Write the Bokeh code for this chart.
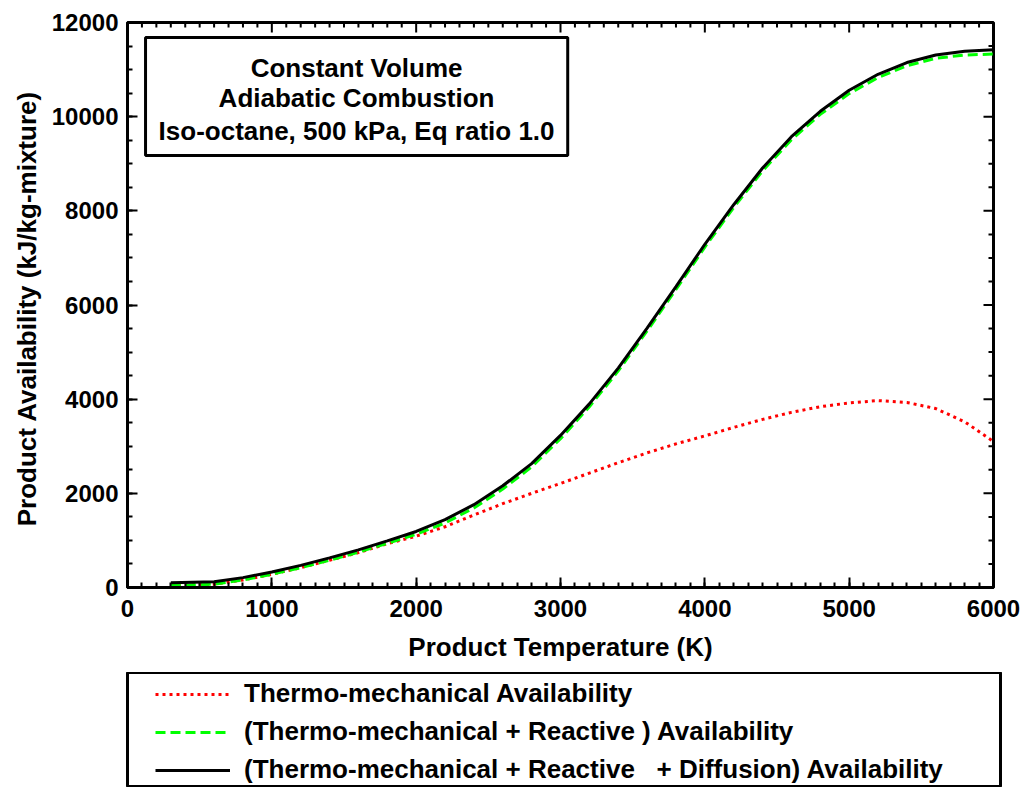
import math
from bokeh.plotting import figure
from bokeh.layouts import column
from bokeh.models import (LinearAxis, SingleIntervalTicker, Legend, LegendItem,
                          BoxAnnotation, Label, ColumnDataSource, Range1d)
from bokeh.embed import file_html
from bokeh.resources import INLINE

# ---- data ----
temperature = [300, 600, 800, 1000, 1200, 1400, 1600, 1800, 2000, 2200, 2400, 2600,
               2800, 3000, 3200, 3400, 3600, 3800, 4000, 4200, 4400, 4600, 4800,
               5000, 5200, 5400, 5600, 5800, 6000]
total_avail = [100, 120, 210, 330, 470, 630, 800, 990, 1190, 1440, 1760, 2160,
               2630, 3230, 3900, 4660, 5510, 6390, 7290, 8130, 8910, 9575, 10115,
               10560, 10900, 11150, 11310, 11390, 11420]
reactive_avail = [40, 70, 160, 280, 420, 580, 750, 940, 1130, 1370, 1690, 2090,
                  2560, 3160, 3840, 4600, 5450, 6330, 7230, 8070, 8850, 9510, 10050,
                  10490, 10830, 11080, 11240, 11310, 11330]
thermo_avail = [40, 70, 160, 280, 420, 580, 740, 930, 1090, 1290, 1540, 1780,
                2000, 2210, 2430, 2650, 2860, 3050, 3220, 3400, 3570, 3720, 3840,
                3920, 3970, 3930, 3800, 3520, 3100]

x_major, x_minor = 1000, 100
y_major, y_minor = 2000, 500
x_lim = (0, 6000)
y_lim = (0, 12000)

series_names = ["Thermo-mechanical Availability",
                "(Thermo-mechanical + Reactive ) Availability",
                "(Thermo-mechanical + Reactive   + Diffusion) Availability"]
box_lines = ["Constant Volume", "Adiabatic Combustion", "Iso-octane, 500 kPa, Eq ratio 1.0"]

FONT = "Liberation Sans"

src = ColumnDataSource(dict(t=temperature, total=total_avail,
                            react=reactive_avail, thermo=thermo_avail))

styles = [dict(line_color="#ff0000", line_width=3, line_dash="3 4"),
          dict(line_color="#00ff00", line_width=3, line_dash="10 5"),
          dict(line_color="black", line_width=3)]
cols = ["thermo", "react", "total"]

# ------------------------------------------------------------------ main plot
p = figure(frame_width=866, frame_height=565,
           x_range=Range1d(*x_lim), y_range=Range1d(*y_lim),
           x_axis_type=None, y_axis_type=None,
           output_backend="svg", toolbar_location=None,
           min_border_left=127, min_border_right=33, min_border_top=22,
           min_border_bottom=85)
p.xgrid.visible = False
p.ygrid.visible = False
p.outline_line_color = "black"
p.outline_line_width = 3
p.background_fill_color = "white"
p.border_fill_color = "white"


def make_axis(ticker, label, standoff, label_standoff):
    ax = LinearAxis(ticker=ticker,
                    major_tick_in=10, major_tick_out=0,
                    minor_tick_in=5, minor_tick_out=0,
                    major_tick_line_width=2, minor_tick_line_width=2,
                    axis_line_width=3, axis_line_color="black",
                    major_label_text_font=FONT, major_label_text_font_style="bold",
                    major_label_text_font_size="24px",
                    major_label_text_color="black",
                    major_label_standoff=standoff)
    ax.axis_label = label
    ax.axis_label_text_font = FONT
    ax.axis_label_text_font_style = "bold"
    ax.axis_label_text_font_size = "26px"
    ax.axis_label_text_color = "black"
    ax.axis_label_standoff = label_standoff
    return ax


p.add_layout(make_axis(SingleIntervalTicker(interval=x_major, num_minor_ticks=x_major // x_minor),
                       "Product Temperature (K)", 12, 12), "below")
p.add_layout(make_axis(SingleIntervalTicker(interval=y_major, num_minor_ticks=y_major // y_minor),
                       "Product  Availability (kJ/kg-mixture)", 9, 7), "left")

# inward ticks on the top and right edges (mirroring the bottom / left axes)
top_x = list(range(x_lim[0], x_lim[1] + 1, x_minor))
top_len = [10 if v % x_major == 0 else 5 for v in top_x]
p.ray(x=top_x, y=[y_lim[1]] * len(top_x), length=top_len, length_units="screen",
      angle=-math.pi / 2, line_color="black", line_width=2)
right_y = list(range(y_lim[0], y_lim[1] + 1, y_minor))
right_len = [10 if v % y_major == 0 else 5 for v in right_y]
p.ray(x=[x_lim[1]] * len(right_y), y=right_y, length=right_len, length_units="screen",
      angle=math.pi, line_color="black", line_width=2)

for c, st in zip(cols, styles):
    p.line("t", c, source=src, **st)

# title box
box = BoxAnnotation(left=125, right=3050, bottom=9175, top=11680,
                    fill_color="white", fill_alpha=1.0,
                    line_color="black", line_alpha=1.0, line_width=3)
p.add_layout(box)
for txt, yy in zip(box_lines, [11044, 10386, 9706]):
    p.add_layout(Label(x=1587, y=yy, text=txt, text_align="center",
                       text_baseline="middle", text_font=FONT,
                       text_font_style="bold", text_font_size="26px",
                       text_color="black"))

# ------------------------------------------------------------------ legend panel
q = figure(frame_width=873, frame_height=115,
           x_range=Range1d(0, 1), y_range=Range1d(0, 1),
           x_axis_type=None, y_axis_type=None,
           output_backend="svg", toolbar_location=None,
           min_border_left=127, min_border_right=26, min_border_top=0,
           min_border_bottom=0)
q.xgrid.visible = False
q.ygrid.visible = False
q.outline_line_color = "black"
q.outline_line_width = 3
q.background_fill_color = "white"
q.border_fill_color = "white"

# same series drawn in this panel (outside its ranges) so the legend shows their styles
leg_renderers = [q.line("t", c, source=src, **st) for c, st in zip(cols, styles)]

legend = Legend(items=[LegendItem(label=n, renderers=[r])
                       for n, r in zip(series_names, leg_renderers)],
                location=(28, 2), orientation="vertical",
                label_text_font=FONT, label_text_font_style="bold",
                label_text_font_size="26px", label_text_color="black",
                glyph_width=75, glyph_height=20, label_height=31, label_standoff=14,
                padding=0, spacing=7, margin=0,
                border_line_color=None, background_fill_alpha=0.0)
q.add_layout(legend, "center")

layout = column(p, q, spacing=0)
open("out.html", "w").write(file_html(layout, INLINE))
